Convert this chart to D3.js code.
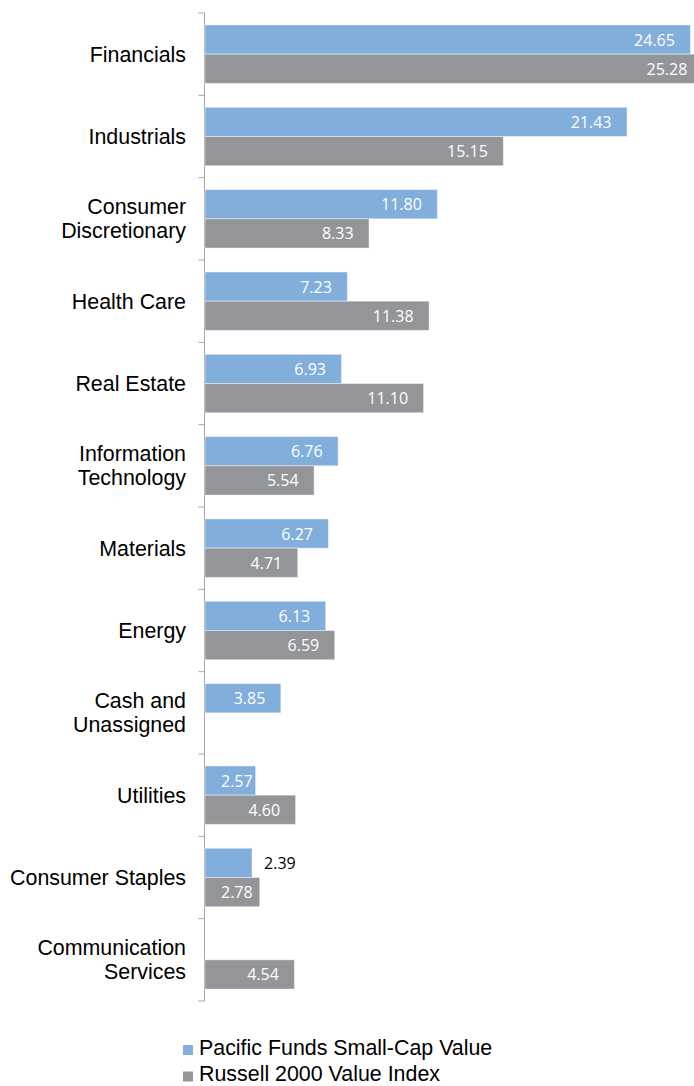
<!DOCTYPE html>
<html>
<head>
<meta charset="utf-8">
<script src="https://cdn.jsdelivr.net/npm/d3@7"></script>
<style>
  body { margin: 0; background: #fff; }
  svg { display: block; }
</style>
</head>
<body>
<svg id="chart" width="694" height="1086"></svg>
<script>
// sector weights (%)
const categories = ["Financials", "Industrials", "Consumer Discretionary", "Health Care", "Real Estate",
  "Information Technology", "Materials", "Energy", "Cash and Unassigned", "Utilities",
  "Consumer Staples", "Communication Services"];
const labelLines = [["Financials"], ["Industrials"], ["Consumer", "Discretionary"], ["Health Care"], ["Real Estate"],
  ["Information", "Technology"], ["Materials"], ["Energy"], ["Cash and", "Unassigned"], ["Utilities"],
  ["Consumer Staples"], ["Communication", "Services"]];
const seriesNames = ["Pacific Funds Small-Cap Value", "Russell 2000 Value Index"];
const fundValues = [24.65, 21.43, 11.80, 7.23, 6.93, 6.76, 6.27, 6.13, 3.85, 2.57, 2.39, null];
const indexValues = [25.28, 15.15, 8.33, 11.38, 11.10, 5.54, 4.71, 6.59, null, 4.60, 2.78, 4.54];
const colors = ["#82AEDC", "#939598"];

const svg = d3.select("#chart");

const y = d3.scaleBand().domain(categories).range([13, 1001]).paddingInner(0.29).paddingOuter(0.145);
const x = d3.scaleLinear().domain([0, 25]).range([205, 697.3]);
const ySub = d3.scaleBand().domain([0, 1]).range([0, y.bandwidth()]);

// axis
const axisG = svg.append("g").attr("transform", "translate(204.5,0)");
const step = y.step();
axisG.append("line").attr("x1", 0).attr("x2", 0).attr("y1", 13).attr("y2", 1001)
  .attr("stroke", "#a6a6a6").attr("stroke-width", 1);
axisG.selectAll(".tick").data(d3.range(categories.length + 1)).enter().append("line")
  .attr("x1", -6).attr("x2", 0)
  .attr("y1", function(d) { return 13 + d * step; })
  .attr("y2", function(d) { return 13 + d * step; })
  .attr("stroke", "#a6a6a6");

// category labels
svg.selectAll(".cat").data(categories).enter().append("text")
  .attr("class", "cat")
  .attr("x", 186)
  .attr("y", function(d) { return y(d) + y.bandwidth() / 2; })
  .attr("text-anchor", "end")
  .style("font-family", "Liberation Sans, Arial, sans-serif")
  .style("font-size", "21.4px")
  .attr("fill", "#000")
  .each(function(d, i) {
    const lines = labelLines[i];
    const t = d3.select(this);
    lines.forEach(function(l, j) {
      t.append("tspan").attr("x", 186)
        .attr("dy", j == 0 ? (7.5 - (lines.length - 1) * 12) + "px" : "24px")
        .text(l);
    });
  });

// bars
[fundValues, indexValues].forEach(function(vals, s) {
  const g = svg.append("g");
  const rows = categories.map(function(c, i) { return {cat: c, v: vals[i]}; }).filter(function(d) { return d.v != null; });
  g.selectAll("rect").data(rows).enter().append("rect")
    .attr("x", x(0))
    .attr("y", function(d) { return y(d.cat) + ySub(s); })
    .attr("width", function(d) { return x(d.v) - x(0); })
    .attr("height", ySub.bandwidth())
    .attr("fill", colors[s])
    .attr("stroke", "#fff").attr("stroke-opacity", 0.45).attr("stroke-width", 1);
  g.selectAll("text").data(rows).enter().append("text")
    .attr("y", function(d) { return y(d.cat) + ySub(s) + ySub.bandwidth() / 2 + 6; })
    .attr("fill", function(d) { return d.v < 2.5 ? "#000" : "#fff"; })
    .style("font-family", "Open Sans, sans-serif")
    .style("font-size", "16px")
    .text(function(d) { return d.v.toFixed(2); })
    .attr("x", function(d) {
      if (d.v < 2.5) return x(d.v) + 12;
      const w = this.getComputedTextLength();
      return Math.max(x(d.v) - 15.5 - w, x(0) + 16);
    });
});

// legend
const leg = svg.append("g");
seriesNames.forEach(function(n, i) {
  leg.append("rect").attr("x", 183).attr("y", 1045 + i * 26.5).attr("width", 10).attr("height", 10).attr("fill", colors[i]);
  leg.append("text").attr("x", 199).attr("y", 1054.5 + i * 26.5)
    .style("font-family", "Liberation Sans, Arial, sans-serif")
    .style("font-size", "21.4px")
    .text(n);
});
</script>
</body>
</html>
